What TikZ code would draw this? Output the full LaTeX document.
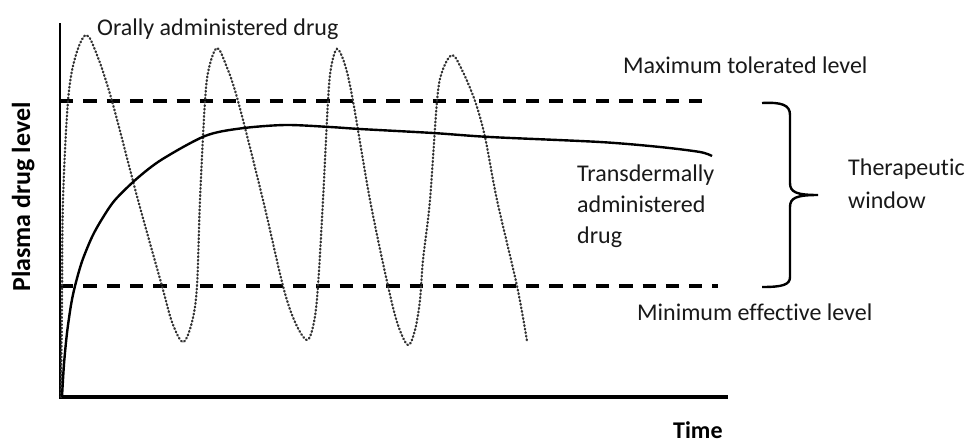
\documentclass[tikz,border=0pt]{standalone}
\usepackage{fontspec}
\setmainfont{Carlito}[Ligatures={NoCommon}]
\begin{document}
\begin{tikzpicture}[x=1pt,y=-1pt,
  lbl/.style={inner sep=0pt, text=black!90, font=\fontsize{24}{31}\selectfont},
  boldlbl/.style={inner sep=0pt, text=black, font=\bfseries\fontsize{24}{28}\selectfont},
  yaxisline/.style={line width=2.5pt, black},
  xaxisline/.style={line width=4pt, black},
  levelline/.style={line width=3.5pt, black, dash pattern=on 13.3pt off 10pt},
  oral/.style={line width=2.3pt, black!80, dash pattern=on 0.8pt off 2.8pt, line cap=round},
  transline/.style={line width=2.4pt, black},
  bracestyle/.style={line width=2.4pt, black}]
\useasboundingbox[fill=white] (0,0) rectangle (968,445);

% axes
\coordinate (O) at (60,397);
\coordinate (ytop) at (60,23);
\coordinate (xend) at (728,397);
\draw[yaxisline] (ytop) -- (O);
\draw[xaxisline] (58.75,397) -- (xend);

% level lines
\coordinate (maxL) at (60,101);
\coordinate (maxR) at (703,101);
\coordinate (minL) at (60,286);
\coordinate (minR) at (718,286);
\draw[levelline] (maxL) -- (maxR);
\draw[levelline] (minL) -- (minR);

% orally administered drug (dotted)
\draw[oral] plot[smooth, tension=0.55] coordinates {(61,397) (62,300) (63,200) (68,101) (75,58) (86,35) (97,55) (112,101) (138,200) (162,286) (172,322) (183,342) (192,322) (197,286) (200,200) (205,101) (209,68) (217,48) (226,65) (238,101) (263,200) (283,286) (295,322) (307,340) (314,322) (318,286) (323,200) (328,101) (331,68) (337,49) (345,65) (353,101) (370,200) (388,286) (398,325) (408,345) (415,330) (420,300) (423,260) (430,200) (437,101) (442,72) (452,55) (462,70) (475,101) (485,137) (497,200) (517,286) (527,341)};

% transdermally administered drug (solid)
\draw[transline] plot[smooth, tension=0.5] coordinates {(62,397) (64,364) (67,333) (71,305) (75,286) (82,261.5) (92,237) (102,219) (115,200) (137,178.5) (162,159.4) (205,136) (240,128.5) (285,125) (330,127) (360,129) (433,133) (490,137) (600,142) (660,147) (700,152) (712,156)};

% brace
\coordinate (bTop) at (762,103);
\coordinate (bTip) at (818,195);
\coordinate (bBot) at (762,287);
\draw[bracestyle] (bTop) .. controls (782,102) and (790,105) .. (790,115) -- (790,183) .. controls (790,192) and (796,195) .. (bTip) .. controls (796,195) and (790,198) .. (790,207) -- (790,277) .. controls (790,285) and (782,287) .. (bBot);

% labels
\node[lbl, anchor=base west] (oralLbl) at (97,35) {Orally administered drug};
\node[lbl, anchor=base west] (maxLbl) at (623,73) {Maximum tolerated level};
\node[lbl, anchor=base west, align=left] (transLbl) at (577,243) {Transdermally\\administered\\drug};
\node[lbl, anchor=base west, align=left, font=\fontsize{24}{33}\selectfont] (therLbl) at (848,208) {Therapeutic\\window};
\node[lbl, anchor=base west] (minLbl) at (637,320) {Minimum effective level};
\node[boldlbl, anchor=base west] (timeLbl) at (673,438) {Time};
\node[boldlbl, font=\bfseries\fontsize{26}{30}\selectfont, rotate=90, anchor=base] (yLbl) at (30,197) {Plasma drug level};
\end{tikzpicture}
\end{document}
